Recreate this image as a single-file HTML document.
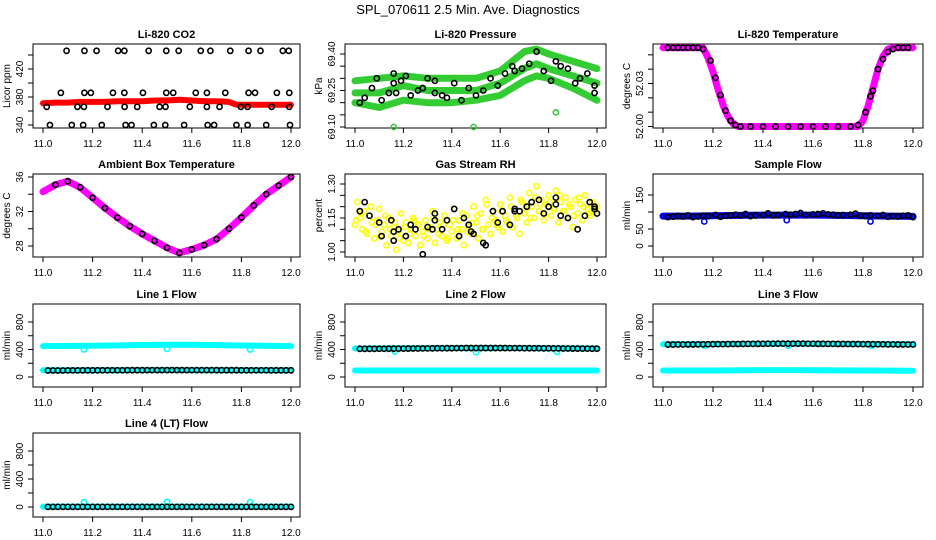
<!DOCTYPE html>
<html><head><meta charset="utf-8"><style>
body{margin:0;background:#fff}
svg{display:block;font-family:"Liberation Sans",Arial,sans-serif}
</style></head><body>
<svg id="c" width="936" height="540" viewBox="0 0 936 540">
<text x="468" y="14" text-anchor="middle" font-size="13">SPL_070611  2.5 Min. Ave. Diagnostics</text>
</svg>
<script>
// ---- data (t = fraction of hour between 11.0 and 12.0) ----
const xTicks = [11.0, 11.2, 11.4, 11.6, 11.8, 12.0];
const xTickLabels = ["11.0","11.2","11.4","11.6","11.8","12.0"];

const co2T = [0,0.05,0.1,0.15,0.2,0.25,0.3,0.35,0.4,0.45,0.5,0.55,0.6,0.65,0.7,0.75,0.78,0.8,0.85,0.9,0.95,1];
const co2V = [371,372,372,373,373,373,374,374,374,375,375,376,375,374,374,373,369,369,369,369,369,369];
const co2BlackT = [0.095,0.167,0.216,0.303,0.328,0.426,0.497,0.547,0.636,0.675,0.755,0.829,0.877,0.967,0.991,
 0.072,0.167,0.193,0.282,0.328,0.403,0.497,0.525,0.616,0.661,0.735,0.829,0.855,0.943,0.993,
 0.015,0.139,0.165,0.26,0.329,0.38,0.47,0.494,0.592,0.661,0.712,0.798,0.825,0.922,0.993,
 0.028,0.116,0.162,0.237,0.333,0.357,0.447,0.493,0.569,0.664,0.69,0.78,0.825,0.9,0.996];
const co2BlackV = [446,446,446,446,446,446,446,446,446,446,446,446,446,446,446,
 386,386,386,386,386,386,386,386,386,386,386,386,386,386,386,
 366,366,366,366,366,366,366,366,366,366,366,366,366,366,366,
 340,340,340,340,340,340,340,340,340,340,340,340,340,340,340];

const presT = [0,0.1,0.2,0.3,0.4,0.5,0.6,0.7,0.75,0.8,0.9,1];
const presUpper = [69.29,69.30,69.31,69.30,69.30,69.30,69.33,69.41,69.42,69.40,69.37,69.34];
const presMiddle = [69.24,69.24,69.27,69.25,69.25,69.25,69.28,69.34,69.36,69.34,69.31,69.28];
const presLower = [69.20,69.18,69.21,69.20,69.20,69.21,69.23,69.29,69.31,69.30,69.26,69.21];
const presBlackT = [0.02,0.04,0.07,0.09,0.11,0.14,0.16,0.16,0.17,0.19,0.21,0.23,0.26,0.28,0.30,0.33,0.33,0.36,0.38,0.41,0.44,0.47,0.50,0.53,0.56,0.59,0.62,0.65,0.66,0.69,0.72,0.75,0.78,0.81,0.83,0.85,0.88,0.91,0.93,0.96,0.99,0.99];
const presBlackV = [69.20,69.22,69.26,69.30,69.21,69.24,69.32,69.28,69.24,69.29,69.31,69.23,69.25,69.26,69.30,69.24,69.29,69.23,69.22,69.28,69.21,69.26,69.23,69.25,69.30,69.27,69.32,69.35,69.33,69.34,69.36,69.41,69.33,69.29,69.37,69.35,69.34,69.28,69.30,69.32,69.27,69.24];
const presOutT = [0.16,0.49,0.83];
const presOutV = [69.10,69.10,69.16];

const tempT = [0,0.16,0.18,0.20,0.22,0.24,0.26,0.28,0.30,0.78,0.80,0.82,0.84,0.86,0.88,0.90,0.92,1];
const tempV = [52.055,52.055,52.048,52.038,52.026,52.015,52.007,52.002,52.000,52.000,52.004,52.014,52.027,52.040,52.049,52.054,52.055,52.055];
const tempBlackT = [0.02,0.04,0.06,0.08,0.10,0.12,0.14,0.16,0.19,0.21,0.23,0.25,0.27,0.29,0.31,0.35,0.40,0.45,0.50,0.55,0.60,0.65,0.70,0.75,0.78,0.81,0.83,0.84,0.86,0.88,0.90,0.92,0.94,0.96,0.98];
const tempBlackV = [52.055,52.055,52.055,52.055,52.055,52.055,52.055,52.054,52.046,52.034,52.022,52.011,52.004,52.001,52.000,52.000,52.000,52.000,52.000,52.000,52.000,52.000,52.000,52.000,52.001,52.010,52.021,52.025,52.040,52.047,52.052,52.054,52.055,52.055,52.055];

const ambT = [0,0.05,0.1,0.15,0.2,0.25,0.3,0.35,0.4,0.45,0.5,0.55,0.6,0.65,0.7,0.75,0.8,0.85,0.9,0.95,1];
const ambV = [34.3,35.1,35.5,34.8,33.6,32.4,31.3,30.3,29.4,28.6,27.8,27.2,27.6,28.1,28.8,30.0,31.3,32.7,34.0,35.0,36.0];

const rhT = [0,0.01,0.02,0.03,0.04,0.05,0.06,0.07,0.08,0.09,0.10,0.11,0.12,0.13,0.14,0.15,0.16,0.17,0.18,0.19,0.20,0.21,0.22,0.23,0.24,0.25,0.26,0.27,0.28,0.29,0.30,0.31,0.32,0.33,0.34,0.35,0.36,0.37,0.38,0.39,0.40,0.41,0.42,0.43,0.44,0.45,0.46,0.47,0.48,0.49,0.50,0.51,0.52,0.53,0.54,0.55,0.56,0.57,0.58,0.59,0.60,0.61,0.62,0.63,0.64,0.65,0.66,0.67,0.68,0.69,0.70,0.71,0.72,0.73,0.74,0.75,0.76,0.77,0.78,0.79,0.80,0.81,0.82,0.83,0.84,0.85,0.86,0.87,0.88,0.89,0.90,0.91,0.92,0.93,0.94,0.95,0.96,0.97,0.98,0.99,1.0];
const rhV = [1.12,1.22,1.15,1.10,1.18,1.08,1.16,1.13,1.06,1.14,1.19,1.09,1.12,1.03,1.15,1.07,1.11,1.01,1.09,1.17,1.05,1.13,1.04,1.10,1.15,1.07,1.12,1.03,1.09,1.14,1.06,1.11,1.18,1.04,1.10,1.13,1.07,1.16,1.05,1.12,1.09,1.19,1.06,1.14,1.10,1.03,1.16,1.11,1.08,1.20,1.13,1.06,1.17,1.10,1.23,1.12,1.08,1.18,1.14,1.11,1.21,1.09,1.16,1.13,1.24,1.11,1.19,1.15,1.08,1.22,1.17,1.13,1.26,1.20,1.15,1.29,1.18,1.23,1.14,1.21,1.25,1.16,1.19,1.27,1.13,1.22,1.18,1.24,1.15,1.20,1.11,1.23,1.17,1.21,1.14,1.25,1.19,1.16,1.22,1.18,1.20];
const rhT2 = [0.005,0.025,0.045,0.065,0.085,0.105,0.125,0.145,0.165,0.185,0.205,0.225,0.245,0.265,0.285,0.305,0.325,0.345,0.365,0.385,0.405,0.425,0.445,0.465,0.485,0.505,0.525,0.545,0.565,0.585,0.605,0.625,0.645,0.665,0.685,0.705,0.725,0.745,0.765,0.785,0.805,0.825,0.845,0.865,0.885,0.905,0.925,0.945,0.965,0.985];
const rhV2 = [1.14,1.17,1.09,1.20,1.12,1.07,1.16,1.10,1.13,1.06,1.11,1.08,1.14,1.12,1.07,1.10,1.15,1.08,1.12,1.06,1.14,1.10,1.17,1.09,1.13,1.16,1.10,1.21,1.15,1.12,1.18,1.14,1.20,1.16,1.23,1.19,1.15,1.24,1.21,1.17,1.22,1.19,1.25,1.18,1.21,1.16,1.24,1.20,1.17,1.19];
const rhBlackT = [0.02,0.04,0.06,0.10,0.11,0.15,0.16,0.16,0.18,0.21,0.23,0.25,0.28,0.30,0.32,0.33,0.33,0.36,0.38,0.41,0.43,0.45,0.47,0.48,0.49,0.53,0.54,0.57,0.59,0.61,0.64,0.66,0.66,0.68,0.71,0.73,0.76,0.78,0.80,0.83,0.83,0.85,0.88,0.92,0.95,0.97,0.99,0.99,1.0];
const rhBlackV = [1.18,1.22,1.16,1.13,1.07,1.14,1.09,1.05,1.10,1.07,1.12,1.10,0.99,1.11,1.10,1.17,1.14,1.10,1.14,1.19,1.07,1.15,1.12,1.09,1.08,1.04,1.03,1.18,1.13,1.18,1.12,1.18,1.19,1.18,1.20,1.22,1.23,1.17,1.20,1.24,1.21,1.16,1.15,1.10,1.16,1.22,1.19,1.20,1.17];

const sampT = [0,0.1,0.2,0.3,0.4,0.5,0.6,0.7,0.8,0.9,1];
const sampV = [88,88,89,90,91,91,91,90,89,88,87];
const sampBlackT = [0.02,0.04,0.06,0.08,0.10,0.12,0.14,0.16,0.18,0.21,0.23,0.25,0.27,0.29,0.31,0.33,0.35,0.37,0.40,0.42,0.44,0.46,0.49,0.51,0.53,0.55,0.57,0.60,0.62,0.64,0.66,0.68,0.70,0.72,0.75,0.77,0.79,0.81,0.83,0.86,0.88,0.90,0.92,0.94,0.96,0.98,1.0];
const sampBlackV = [85,86,88,87,90,85,87,89,88,91,86,89,90,92,90,94,88,90,91,96,90,91,94,92,94,97,91,93,94,96,93,92,90,91,92,95,89,88,90,89,91,86,88,87,89,90,85];
const sampOutT = [0.165,0.495,0.83];
const sampOutV = [72,76,72];

const flowT = [0,0.2,0.4,0.5,0.6,0.8,1];
const line1Cyan = [450,455,465,470,468,458,450];
const line1Low = [98,98,100,100,100,98,98];
const line2High = [415,418,420,420,422,418,415];
const line2Cyan = [95,95,95,95,95,95,95];
const line3High = [475,478,482,485,482,478,475];
const line3Cyan = [95,95,100,100,98,95,92];
const line4V = [5,5,5,5,5,5,5];
const flowBlackT = [0.02,0.04,0.06,0.08,0.10,0.12,0.14,0.16,0.18,0.20,0.22,0.24,0.26,0.28,0.30,0.32,0.34,0.36,0.38,0.40,0.42,0.44,0.46,0.48,0.50,0.52,0.54,0.56,0.58,0.60,0.62,0.64,0.66,0.68,0.70,0.72,0.74,0.76,0.78,0.80,0.82,0.84,0.86,0.88,0.90,0.92,0.94,0.96,0.98,1.0];
const line1BlackV = [95,95,95,95,96,96,96,97,97,97,97,98,98,98,98,98,99,99,99,99,100,100,100,100,100,100,100,100,100,100,100,100,100,100,99,99,99,99,99,98,98,98,98,98,98,97,97,97,97,97];
const line2BlackV = [410,410,410,410,411,411,412,412,413,413,414,415,415,416,416,417,418,418,419,419,420,420,421,421,421,421,421,421,421,421,421,420,420,420,419,419,418,418,417,417,416,416,415,415,414,414,413,413,412,412];
const line3BlackV = [472,472,473,473,474,474,475,476,476,477,478,478,479,480,480,481,482,482,483,483,484,484,485,485,485,485,485,485,484,484,483,483,482,482,481,481,480,479,479,478,477,477,476,476,475,475,474,474,473,473];
const line4BlackV = [2,2,2,2,2,2,2,2,2,2,2,2,2,2,2,2,2,2,2,2,2,2,2,2,2,2,2,2,2,2,2,2,2,2,2,2,2,2,2,2,2,2,2,2,2,2,2,2,2,2];
const spikeT = [0.165,0.5,0.835];
const line1SpikeV = [400,410,400];
const line2SpikeV = [370,360,365];
const line3SpikeV = [455,455,455];
const line4SpikeV = [70,75,70];

// ---- drawing ----
const svg = document.getElementById('c');
const NS = 'http://www.w3.org/2000/svg';
function mk(tag, attrs, parent){
  const e = document.createElementNS(NS, tag);
  for (const k in attrs) e.setAttribute(k, attrs[k]);
  (parent||svg).appendChild(e);
  return e;
}
const colL = [33,345,653], colR = [300,606,923], colT0 = [43,355,663], colT1 = [291,597,913];
const rowT = [44,174,304,433], rowB = [128,257,387,517];

function panel(o){
  const g = mk('g', {});
  
  
  const L = colL[o.c], R = colR[o.c], T = rowT[o.r], B = rowB[o.r];
  const sx = t => colT0[o.c] + t*(colT1[o.c]-colT0[o.c]);
  const sxh = h => sx(h-11);
  const sy = v => o.p0 + (v-o.v0)/(o.v1-o.v0)*(o.p1-o.p0);
  const box = mk('rect', {x:L, y:T, width:R-L, height:B-T, fill:'none', stroke:'#000', 'stroke-width':1}, g);
  
  
  const ttl = mk('text', {x:(L+R)/2, y:T-6, 'text-anchor':'middle', 'font-size':11, 'font-weight':'bold'}, g);
  ttl.textContent = o.title;
  
  
  xTicks.forEach((h,i)=>{
    const x = sxh(h);
    mk('line', {x1:x, x2:x, y1:B, y2:B+5, stroke:'#000'}, g);
    const tx = mk('text', {x:x, y:B+19, 'text-anchor':'middle', 'font-size':10}, g);
    tx.textContent = xTickLabels[i];
    
    
  });
  o.yt.forEach(v=>{
    const y = sy(v);
    mk('line', {x1:L, x2:L-5, y1:y, y2:y, stroke:'#000'}, g);
  });
  o.yl.forEach((v,i)=>{
    const y = sy(v);
    const tx = mk('text', {x:L-10, y:y, 'text-anchor':'middle', 'font-size':10, transform:`rotate(-90 ${L-10} ${y})`}, g);
    tx.textContent = o.ylt[i];
    
    
  });
  const yt = mk('text', {x:L-23, y:(T+B)/2, 'text-anchor':'middle', 'font-size':10, transform:`rotate(-90 ${L-23} ${(T+B)/2})`}, g);
  yt.textContent = o.ylab;
  
  
  return {g, sx, sy};
}
function band(P, ts, vs, color, w, name){
  const pts = ts.map((t,i)=>P.sx(t).toFixed(1)+','+P.sy(vs[i]).toFixed(1)).join(' ');
  const e = mk('polyline', {points:pts, fill:'none', stroke:color, 'stroke-width':w, 'stroke-linejoin':'round', 'stroke-linecap':'round'}, P.g);
  
  
}
function pts(P, ts, vs, color, name, r){
  ts.forEach((t,i)=>{
    const e = mk('circle', {cx:P.sx(t), cy:P.sy(vs[i]), r:r||2.6, fill:'none', stroke:color, 'stroke-width':1.6}, P.g);
    
    
  });
}
const K = '#000';

let P = panel({name:'co2-panel', c:0, r:0, title:'Li-820 CO2', ylab:'Licor ppm', v0:340, p0:125, v1:420, p1:69, yt:[340,360,380,400,420,440], yl:[340,380,420], ylt:['340','380','420']});
band(P, co2T, co2V, '#ff0000', 6, 'co2-series');
pts(P, co2BlackT, co2BlackV, K, 'co2-point');

P = panel({name:'pressure-panel', c:1, r:0, title:'Li-820 Pressure', ylab:'kPa', v0:69.10, p0:127, v1:69.40, p1:54, yt:[69.10,69.15,69.20,69.25,69.30,69.35,69.40], yl:[69.10,69.25,69.40], ylt:['69.10','69.25','69.40']});
band(P, presT, presUpper, '#33cc33', 7, 'pressure-upper-band');
band(P, presT, presMiddle, '#33cc33', 7, 'pressure-middle-band');
band(P, presT, presLower, '#33cc33', 7, 'pressure-lower-band');
pts(P, presOutT, presOutV, '#33cc33', 'pressure-outlier');
pts(P, presBlackT, presBlackV, K, 'pressure-point');

P = panel({name:'temperature-panel', c:2, r:0, title:'Li-820 Temperature', ylab:'degrees C', v0:52.00, p0:126.5, v1:52.03, p1:83.5, yt:[52.00,52.01,52.02,52.03,52.04,52.05], yl:[52.00,52.03], ylt:['52.00','52.03']});
band(P, tempT, tempV, '#ff00ff', 7, 'temperature-series');
pts(P, tempBlackT, tempBlackV, K, 'temperature-point');

P = panel({name:'ambient-panel', c:0, r:1, title:'Ambient Box Temperature', ylab:'degrees C', v0:28, p0:246, v1:36, p1:177, yt:[28,30,32,34,36], yl:[28,32,36], ylt:['28','32','36']});
band(P, ambT, ambV, '#ff00ff', 7, 'ambient-series');
pts(P, ambT.slice(1), ambV.slice(1), K, 'ambient-point');

P = panel({name:'rh-panel', c:1, r:1, title:'Gas Stream RH', ylab:'percent', v0:1.00, p0:252, v1:1.30, p1:184, yt:[1.00,1.05,1.10,1.15,1.20,1.25,1.30], yl:[1.00,1.15,1.30], ylt:['1.00','1.15','1.30']});
pts(P, rhT, rhV, '#ffff00', 'rh-yellow-point');
pts(P, rhT2, rhV2, '#ffff00', 'rh-yellow-point');
pts(P, rhBlackT, rhBlackV, K, 'rh-point');

P = panel({name:'sample-flow-panel', c:2, r:1, title:'Sample Flow', ylab:'ml/min', v0:0, p0:246, v1:150, p1:195, yt:[0,50,100,150], yl:[0,50,150], ylt:['0','50','150']});
band(P, sampT, sampV, '#0000ee', 7, 'sample-flow-series');
pts(P, sampOutT, sampOutV, '#0000ee', 'sample-flow-outlier');
pts(P, sampBlackT, sampBlackV, K, 'sample-flow-point');

const fl = {v0:0, v1:800, yt:[0,200,400,600,800], yl:[0,400,800], ylt:['0','400','800'], ylab:'ml/min'};
P = panel(Object.assign({name:'line1-panel', c:0, r:2, title:'Line 1 Flow', p0:377, p1:322}, fl));
band(P, flowT, line1Cyan, '#00ffff', 6, 'line1-cyan-series');
band(P, flowT, line1Low, '#00ffff', 6, 'line1-low-series');
pts(P, spikeT, line1SpikeV, '#00ffff', 'line1-spike');
pts(P, flowBlackT, line1BlackV, K, 'line1-point');

P = panel(Object.assign({name:'line2-panel', c:1, r:2, title:'Line 2 Flow', p0:377, p1:322}, fl));
band(P, flowT, line2High, '#00ffff', 6, 'line2-high-series');
band(P, flowT, line2Cyan, '#00ffff', 6, 'line2-cyan-series');
pts(P, spikeT, line2SpikeV, '#00ffff', 'line2-spike');
pts(P, flowBlackT, line2BlackV, K, 'line2-point');

P = panel(Object.assign({name:'line3-panel', c:2, r:2, title:'Line 3 Flow', p0:377, p1:322}, fl));
band(P, flowT, line3High, '#00ffff', 6, 'line3-high-series');
band(P, flowT, line3Cyan, '#00ffff', 6, 'line3-cyan-series');
pts(P, spikeT, line3SpikeV, '#00ffff', 'line3-spike');
pts(P, flowBlackT, line3BlackV, K, 'line3-point');

P = panel(Object.assign({name:'line4-panel', c:0, r:3, title:'Line 4 (LT) Flow', p0:507, p1:451}, fl));
band(P, flowT, line4V, '#00ffff', 6, 'line4-series');
pts(P, spikeT, line4SpikeV, '#00ffff', 'line4-spike');
pts(P, flowBlackT, line4BlackV, K, 'line4-point');
</script>
</body></html>
